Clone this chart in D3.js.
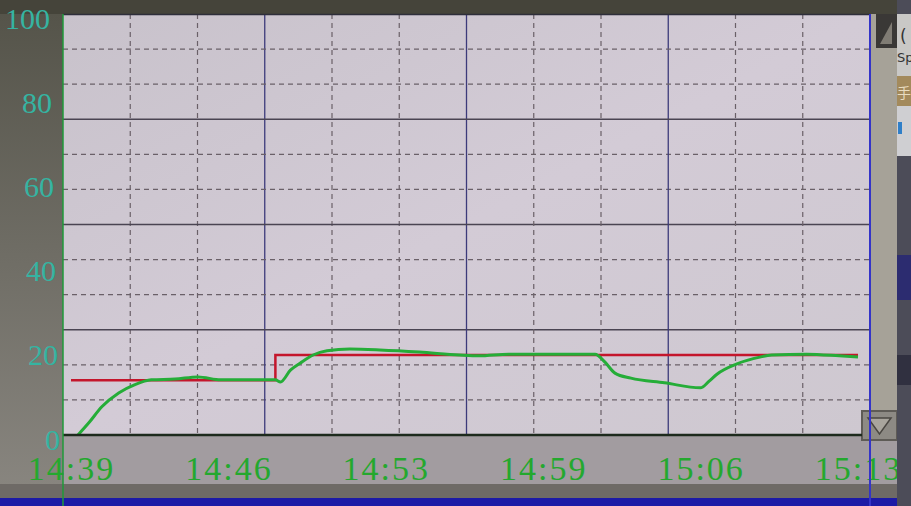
<!DOCTYPE html>
<html>
<head>
<meta charset="utf-8">
<script src="https://d3js.org/d3.v7.min.js"></script>
<style>
  html, body { margin: 0; padding: 0; background: #4a493f; overflow: hidden; }
  svg { display: block; }
</style>
</head>
<body>
<svg id="chart"></svg>
<script>
// time axis in minutes after 14:39, values in %
const xTickMin = [0, 6.8, 13.6, 20.4, 27.2, 34];
const xTickLabels = ['14:39', '14:46', '14:53', '14:59', '15:06', '15:13'];
const yTicks = [0, 20, 40, 60, 80, 100];

// setpoint (red, stepped)
const spTime = [0, 8.83, 34];
const spValue = [13, 19, 19];

// process value (green)
const pvTime = [0.3, 0.77, 1.33, 2.06, 2.74, 3.47, 4.5, 5.49, 6.47, 8.83, 9.05, 9.48, 9.91, 10.46, 11.06,
  12.05, 13.34, 15.05, 16.77, 17.62, 18.91, 22.64, 23.07, 23.5, 24.19, 25.64, 27.19, 27.57, 27.92,
  28.77, 29.76, 30.27, 31.78, 33.19, 34];
const pvValue = [0, 2.9, 6.7, 10.0, 11.9, 13.1, 13.3, 13.8, 13.1, 13.1, 12.6, 15.4, 17.1, 19.0, 20.0,
  20.4, 20.2, 19.7, 19.0, 18.8, 19.2, 19.2, 17.3, 14.7, 13.5, 12.4, 11.2, 12.8, 14.5,
  16.9, 18.5, 19.0, 19.2, 18.8, 18.5];

const svgW = 911, svgH = 506;
const plotL = 63, plotR = 870, plotT = 14, plotB = 435;

const svg = d3.select('#chart').attr('width', svgW).attr('height', svgH);

const x = d3.scaleLinear().domain([0, 34]).range([plotL + 8, plotR - 12]);
const y = d3.scaleLinear().domain([0, 100]).range([plotB, plotT]);

// backgrounds
const defs = svg.append('defs');
const lg = defs.append('linearGradient').attr('id', 'margin').attr('x1', 0).attr('y1', 0).attr('x2', 0).attr('y2', 1);
lg.append('stop').attr('offset', 0).attr('stop-color', '#55544a');
lg.append('stop').attr('offset', 1).attr('stop-color', '#8a8781');
const pg = defs.append('linearGradient').attr('id', 'plotbg').attr('x1', 0).attr('y1', 0).attr('x2', 1).attr('y2', 1);
pg.append('stop').attr('offset', 0).attr('stop-color', '#c8c2cb');
pg.append('stop').attr('offset', 0.5).attr('stop-color', '#d3cbd6');
pg.append('stop').attr('offset', 1).attr('stop-color', '#cec8d0');

svg.append('rect').attr('width', svgW).attr('height', svgH).attr('fill', '#45443a');
svg.append('rect').attr('x', 0).attr('y', plotT).attr('width', plotL).attr('height', svgH - plotT).attr('fill', 'url(#margin)');
svg.append('rect').attr('x', plotL).attr('y', plotB).attr('width', 897 - plotL).attr('height', 50).attr('fill', '#a29ca0');
svg.append('rect').attr('x', 0).attr('y', 484).attr('width', 897).attr('height', 14).attr('fill', '#6e6a66');
svg.append('rect').attr('x', 0).attr('y', 498).attr('width', svgW).attr('height', 8).attr('fill', '#1c1aa6');
svg.append('rect').attr('x', plotL).attr('y', plotT).attr('width', plotR - plotL).attr('height', plotB - plotT).attr('fill', 'url(#plotbg)');

// grid: 4 major divisions, 3 minor steps each
const grid = svg.append('g');
const xg = d3.scaleLinear().domain([0, 12]).range([plotL, plotR]);
const yg = d3.scaleLinear().domain([0, 12]).range([plotB, plotT]);
d3.range(1, 12).forEach(i => {
  const major = i % 3 === 0;
  grid.append('line')
    .attr('x1', xg(i)).attr('x2', xg(i)).attr('y1', plotT).attr('y2', plotB)
    .attr('stroke', major ? '#3c3a7a' : '#6a6068')
    .attr('stroke-width', major ? 1.3 : 1.2)
    .attr('stroke-dasharray', major ? null : '5,4');
  grid.append('line')
    .attr('x1', plotL).attr('x2', plotR).attr('y1', yg(i)).attr('y2', yg(i))
    .attr('stroke', major ? '#4a4452' : '#6a6068')
    .attr('stroke-width', major ? 1.3 : 1.2)
    .attr('stroke-dasharray', major ? null : '5,4');
});
grid.append('line').attr('x1', plotL).attr('x2', plotR).attr('y1', plotT + 0.5).attr('y2', plotT + 0.5)
  .attr('stroke', '#2e2e3a').attr('stroke-width', 1.5);

// lines
const sp = spTime.map((t, i) => [t, spValue[i]]);
const pv = pvTime.map((t, i) => [t, pvValue[i]]);

svg.append('path')
  .datum(sp)
  .attr('d', d3.line().x(d => x(d[0])).y(d => y(d[1])).curve(d3.curveStepAfter))
  .attr('fill', 'none').attr('stroke', '#c4162c').attr('stroke-width', 2.5);

svg.append('path')
  .datum(pv)
  .attr('d', d3.line().x(d => x(d[0])).y(d => y(d[1])).curve(d3.curveMonotoneX))
  .attr('fill', 'none').attr('stroke', '#25ad38').attr('stroke-width', 3)
  .attr('stroke-linejoin', 'round');

// right side scroll panel
const panel = svg.append('g');
panel.append('rect').attr('x', plotR).attr('y', plotT).attr('width', 897 - plotR).attr('height', plotB + 5 - plotT).attr('fill', '#a6a298');
panel.append('rect').attr('x', plotR + 6).attr('y', plotT).attr('width', 897 - plotR - 6).attr('height', 34).attr('fill', '#3a3836');
panel.append('path').attr('d', 'M' + (plotR + 10) + ',44 L892,44 L892,22 Z').attr('fill', '#807c74');
panel.append('rect').attr('x', plotR - 8).attr('y', 411).attr('width', 35).attr('height', 29).attr('fill', '#8d8a84')
  .attr('stroke', '#5e5b56').attr('stroke-width', 2);
panel.append('path').attr('d', 'M' + (plotR - 2) + ',418 L' + (plotR + 21) + ',418 L' + (plotR + 9.5) + ',434 Z')
  .attr('fill', '#a9a59d').attr('stroke', '#4a4742').attr('stroke-width', 1.5);

// axes
svg.append('line').attr('x1', plotL).attr('x2', plotR - 8).attr('y1', plotB).attr('y2', plotB)
  .attr('stroke', '#1d2a1d').attr('stroke-width', 2.5);

const yAxis = d3.axisLeft(y).tickValues(yTicks).tickSize(0).tickPadding(0);
const yAxisG = svg.append('g').attr('transform', 'translate(' + (plotL - 9) + ',0)').call(yAxis);
yAxisG.select('.domain').remove();
yAxisG.selectAll('text')
  .attr('dy', 14)
  .attr('x', d => -4 + (100 - d) * 0.1)
  .attr('fill', '#35b4a2')
  .attr('font-family', '"Liberation Serif", "DejaVu Serif", serif')
  .attr('font-size', 30);

const xAxis = d3.axisBottom(x).tickValues(xTickMin).tickFormat((d, i) => xTickLabels[i]).tickSize(0).tickPadding(0);
const xAxisG = svg.append('g').attr('transform', 'translate(0,' + (plotB + 45) + ')').call(xAxis);
xAxisG.select('.domain').remove();
xAxisG.selectAll('text')
  .attr('dy', 0)
  .attr('fill', '#24a82e')
  .attr('font-family', '"Liberation Serif", "DejaVu Serif", serif')
  .attr('font-size', 34)
  .attr('letter-spacing', 2);

svg.append('line').attr('x1', plotL).attr('x2', plotL).attr('y1', plotT).attr('y2', svgH)
  .attr('stroke', '#1f9a3a').attr('stroke-width', 1.5);
svg.append('line').attr('x1', plotR).attr('x2', plotR).attr('y1', plotT).attr('y2', svgH)
  .attr('stroke', '#3434c8').attr('stroke-width', 2);

// neighbouring window strip
const strip = svg.append('g');
strip.append('rect').attr('x', 897).attr('y', 0).attr('width', 14).attr('height', svgH).attr('fill', '#4c4c58');
strip.append('rect').attr('x', 897).attr('y', 14).attr('width', 14).attr('height', 62).attr('fill', '#c9c8c6');
strip.append('rect').attr('x', 897).attr('y', 76).attr('width', 14).attr('height', 30).attr('fill', '#a38a5c');
strip.append('rect').attr('x', 897).attr('y', 106).attr('width', 14).attr('height', 50).attr('fill', '#cfcfd2');
strip.append('rect').attr('x', 898).attr('y', 122).attr('width', 4).attr('height', 12).attr('fill', '#2f7fc8');
strip.append('rect').attr('x', 897).attr('y', 255).attr('width', 14).attr('height', 45).attr('fill', '#2c2c70');
strip.append('rect').attr('x', 897).attr('y', 355).attr('width', 14).attr('height', 30).attr('fill', '#303040');
strip.append('text').attr('x', 900).attr('y', 42).attr('font-size', 17).attr('fill', '#333')
  .attr('font-family', '"DejaVu Sans", sans-serif').text('(');
strip.append('text').attr('x', 897).attr('y', 62).attr('font-size', 13).attr('fill', '#333')
  .attr('font-family', '"DejaVu Sans", sans-serif').text('Sp');
strip.append('text').attr('x', 897).attr('y', 98).attr('font-size', 14).attr('fill', '#e8dcc0')
  .attr('font-family', '"Noto Sans CJK SC", sans-serif').text('手');
</script>
</body>
</html>
